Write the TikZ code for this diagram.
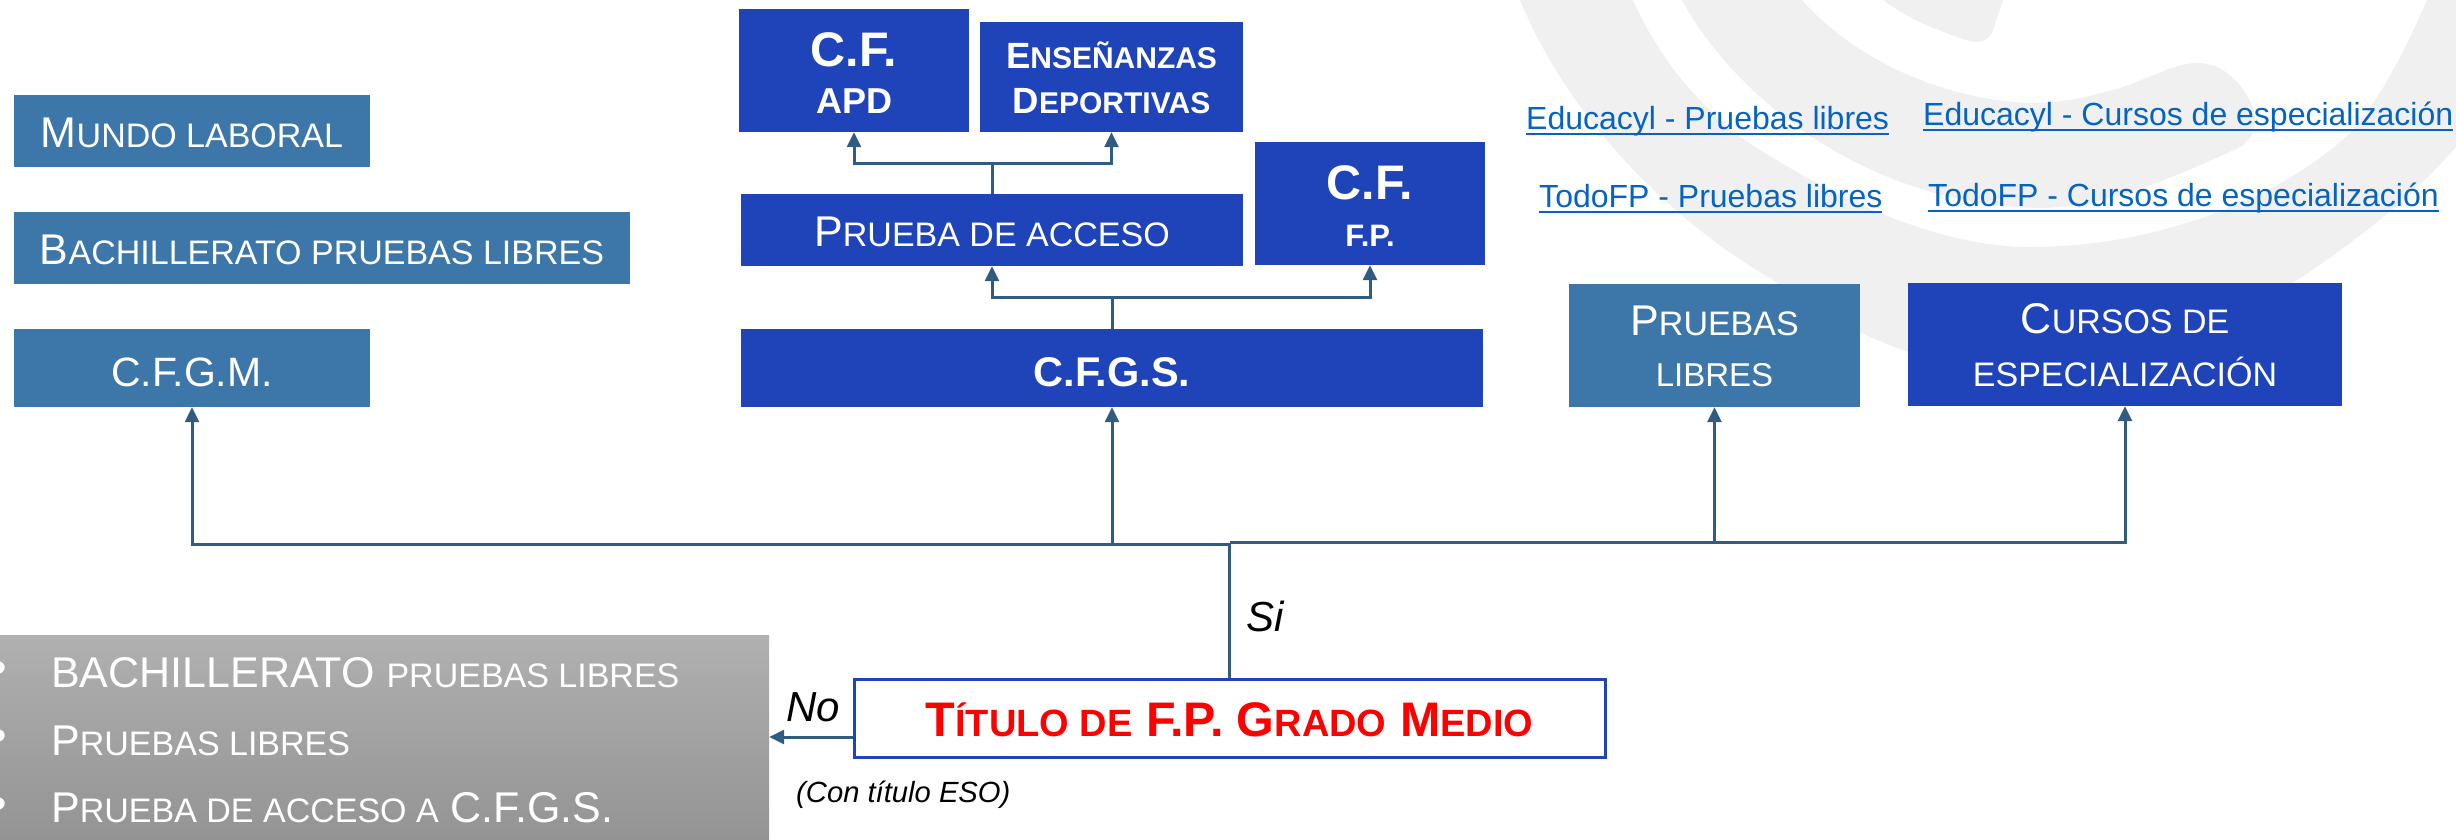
\documentclass[tikz,border=0pt]{standalone}
\usepackage{fontspec}
\setmainfont{Liberation Sans}
\usepackage{tikz}
\usetikzlibrary{arrows.meta,calc,positioning}
\definecolor{azulfuerte}{HTML}{1F44BA}
\definecolor{azulclaro}{HTML}{3D76A8}
\definecolor{azulflecha}{HTML}{2F5C80}
\definecolor{enlace}{HTML}{0563C1}
\definecolor{marca}{HTML}{F0F0F0}
\newcommand{\peq}[1]{{\fontsize{34}{34}\selectfont #1}}
\newcommand{\peqb}[1]{{\fontsize{30}{30}\selectfont #1}}
\newcommand{\peqt}[1]{{\fontsize{38}{38}\selectfont #1}}
\newcommand{\raya}[1]{\sbox0{#1}\rlap{\rule[-6pt]{\wd0}{2.5pt}}\box0}
\tikzset{
    -{Triangle[length=15pt,width=14pt]},x=1pt,y=-1pt,
    con/.style = {draw=azulflecha,line width=3pt},
    sin/.style = {con,-},
    box/.style = {rectangle, inner sep=0pt, align=center, text=white, text depth=0pt, font=\fontsize{43}{51}\selectfont},
    claro/.style = {box, fill=azulclaro},
    fuerte/.style = {box, fill=azulfuerte},
    link/.style = {anchor=base west, inner sep=0pt, text=enlace, font=\fontsize{32}{38}\selectfont},
    listado/.style = {anchor=base west, inner sep=0pt, text=white, font=\fontsize{43}{51}\selectfont},
    el/.style = {inner sep=0pt, text=black, font=\fontsize{42}{48}\itshape\selectfont}
}
\begin{document}
\begin{tikzpicture}
	\useasboundingbox (0,0) rectangle (2456,839);
	%marca de agua
	\fill[marca] (1520,0) .. controls (1565,110) and (1660,215) .. (1778,283) .. controls (1860,345) and (1960,375) .. (2035,375) .. controls (2140,375) and (2240,320) .. (2293,283) .. controls (2350,245) and (2410,200) .. (2456,147) -- (2456,0) -- (2427,0) .. controls (2405,50) and (2380,100) .. (2350,133) .. controls (2290,190) and (2170,247) .. (2030,247) .. controls (1930,247) and (1820,190) .. (1740,137) .. controls (1695,100) and (1660,60) .. (1633,0) -- cycle;
	\fill[marca] (1682,0) .. controls (1730,90) and (1860,205) .. (2040,208) .. controls (2100,208) and (2170,180) .. (2240,147) .. controls (2255,138) and (2258,120) .. (2252,105) .. controls (2240,80) and (2222,63) .. (2197,63) .. controls (2175,63) and (2150,78) .. (2120,88) .. controls (2085,98) and (2060,103) .. (2030,103) .. controls (1950,100) and (1860,65) .. (1802,0) -- cycle;
	\fill[marca] (1883,0) .. controls (1910,20) and (1930,27) .. (1960,38) .. controls (1975,44) and (1988,44) .. (1993,30) -- (2003,0) -- cycle;

	\node (mundo) [claro, minimum width=356pt, minimum height=72pt, text height=32pt] at (192,131) {M\peq{UNDO LABORAL}};
	\node (bachlib) [claro, minimum width=616pt, minimum height=72pt, text height=32pt] at (322,248) {B\peq{ACHILLERATO PRUEBAS LIBRES}};
	\node (cfgm) [claro, minimum width=356pt, minimum height=78pt, text height=36pt, font=\fontsize{41}{46}\selectfont] at (192,368) {C.F.G.M.};

	\node (cfapd) [fuerte, minimum width=230pt, minimum height=123pt, text height=85pt, font=\fontsize{48.5}{47}\bfseries\selectfont] at (854,70.5) {C.F.\\{\fontsize{36}{47}\selectfont APD}};
	\node (ensenanzas) [fuerte, minimum width=263pt, minimum height=110pt, text height=72pt, font=\fontsize{36.5}{45}\bfseries\selectfont] at (1111.5,77) {E\peqb{NSEÑANZAS}\\D\peqb{EPORTIVAS}};
	\node (acceso) [fuerte, minimum width=502pt, minimum height=72pt, text height=32pt] at (992,230) {P\peq{RUEBA DE ACCESO}};
	\node (cffp) [fuerte, minimum width=230pt, minimum height=123pt, text height=85pt, font=\fontsize{48.5}{47}\bfseries\selectfont] at (1370,203.5) {C.F.\\{\fontsize{31}{47}\selectfont F.P.}};
	\node (cfgs) [fuerte, minimum width=742pt, minimum height=78pt, text height=36pt, font=\fontsize{41.5}{45}\bfseries\selectfont] at (1112,368) {C.F.G.S.};

	\node (libres) [claro, minimum width=291pt, minimum height=123pt, text height=81pt] at (1714.5,345.5) {P\peq{RUEBAS}\\{\fontsize{33}{33}\selectfont LIBRES}};
	\node (cursos) [fuerte, minimum width=434pt, minimum height=123pt, text height=83pt, font=\fontsize{43}{53}\selectfont] at (2125,344.5) {C\peq{URSOS DE}\\\peq{ESPECIALIZACIÓN}};

	\node (edlibres) [link] at (1526,129) {\raya{Educacyl - Pruebas libres}};
	\node (fplibres) [link] at (1539,207) {\raya{TodoFP - Pruebas libres}};
	\node (edcursos) [link] at (1923,125) {\raya{Educacyl - Cursos de especialización}};
	\node (fpcursos) [link] at (1928,206) {\raya{TodoFP - Cursos de especialización}};

	\node (titulo) [rectangle, draw=azulfuerte, line width=3pt, fill=white, inner sep=0pt, text depth=0pt, text height=36pt, minimum width=751pt, minimum height=78pt, text=red, font=\fontsize{48.5}{54}\bfseries\selectfont] at (1229.5,718) {T\peqt{ÍTULO DE} F.P. G\peqt{RADO} M\peqt{EDIO}};
	\node (gris) [rectangle, inner sep=0pt, top color=black!31, bottom color=black!42, minimum width=769pt, minimum height=204pt] at (384.5,737) {};
	\node (lista1) [listado] at (51,687) {BACHILLERATO \peq{PRUEBAS LIBRES}};
	\node (lista2) [listado] at (51,755) {P\peq{RUEBAS LIBRES}};
	\node (lista3) [listado] at (51,822) {P\peq{RUEBA DE ACCESO A} C.F.G.S.};
	\node (punto1) [text=white, inner sep=0pt, font=\fontsize{44}{51}\selectfont] at (-1,672) {•};
	\node (punto2) [text=white, inner sep=0pt, font=\fontsize{44}{51}\selectfont] at (-1,740) {•};
	\node (punto3) [text=white, inner sep=0pt, font=\fontsize{44}{51}\selectfont] at (-1,808) {•};
	\node (eso) [anchor=base west, inner sep=0pt, font=\fontsize{29.2}{34}\itshape\selectfont] at (796,802) {(Con título ESO)};

	\coordinate (ramaA) at (acceso.north |- 0,163);
	\coordinate (ramaB) at (cfgs.north |- 0,297);
	\coordinate (busizq) at (titulo.north |- 0,544.5);
	\coordinate (busder) at (titulo.north |- 0,542.5);

	\path (acceso) edge[sin] (ramaA);
	\draw[con] (ramaA) -| (cfapd);
	\draw[con] (ramaA) -| (ensenanzas);
	\path (cfgs) edge[sin] (ramaB);
	\draw[con] (ramaB) -| (acceso);
	\draw[con] (ramaB) -| (cffp);

	\path (titulo) edge[sin] node[el, right=15pt, yshift=-6pt] {Si} (busder);
	\draw[con] (busizq) -| (cfgm);
	\draw[con] (busizq) -| (cfgs);
	\draw[con] (busder) -| (libres);
	\draw[con] (busder) -| (cursos);
	\path (titulo.west |- gris.east) edge[con] node[el, above=14pt, xshift=2pt] {No} (gris.east);
\end{tikzpicture}
\end{document}
